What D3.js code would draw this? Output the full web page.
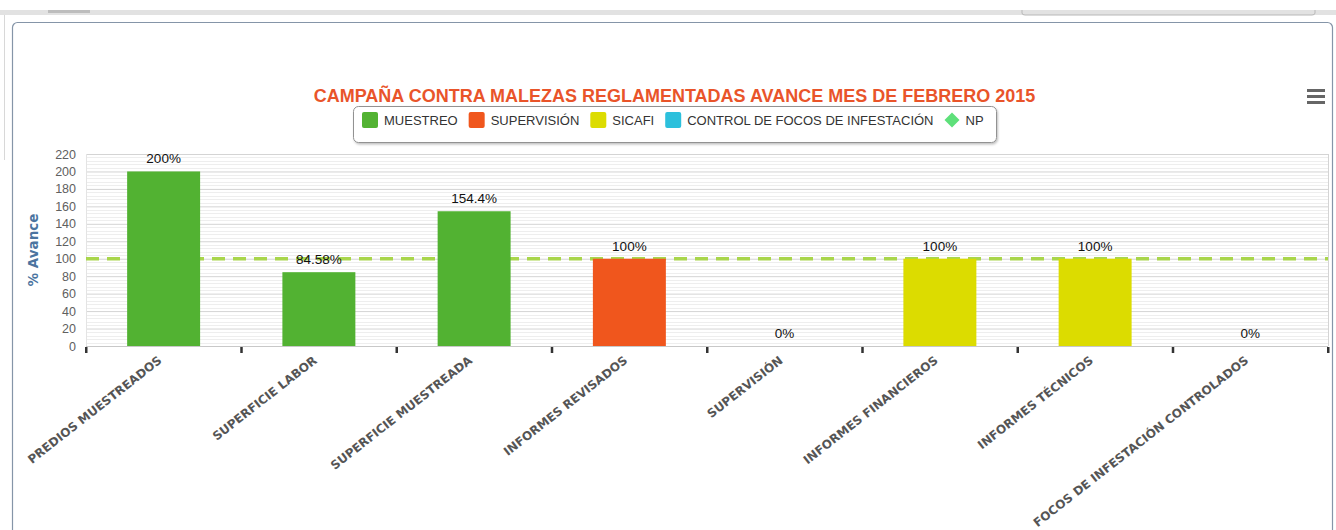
<!DOCTYPE html>
<html><head><meta charset="utf-8">
<script src="https://cdn.jsdelivr.net/npm/d3@7/dist/d3.min.js"></script>
<style>body{margin:0;background:#fff;}svg{display:block;}</style>
</head><body>
<svg id="c" width="1336" height="530"></svg>
<script>
const categories = ["PREDIOS MUESTREADOS","SUPERFICIE LABOR","SUPERFICIE MUESTREADA","INFORMES REVISADOS","SUPERVISIÓN","INFORMES FINANCIEROS","INFORMES TÉCNICOS","FOCOS DE INFESTACIÓN CONTROLADOS"];
const values = [200, 84.58, 154.4, 100, 0, 100, 100, 0];
const valueLabels = ["200%","84.58%","154.4%","100%","0%","100%","100%","0%"];
const pointSeries = ["MUESTREO","MUESTREO","MUESTREO","SUPERVISIÓN","SUPERVISIÓN","SICAFI","SICAFI","CONTROL DE FOCOS DE INFESTACIÓN"];
const seriesNames = ["MUESTREO","SUPERVISIÓN","SICAFI","CONTROL DE FOCOS DE INFESTACIÓN","NP"];
const seriesColors = ["#52b232","#f0561d","#dcdc00","#2cc0dc","#5ee07a"];
const targetValue = 100;
const yTicks = [0,20,40,60,80,100,120,140,160,180,200,220];
const title = "CAMPAÑA CONTRA MALEZAS REGLAMENTADAS AVANCE MES DE FEBRERO 2015";
const yTitle = "% Avance";

const svg = d3.select("#c");
const W = 1336, H = 530;
const M = {left:86, right:1328, top:154, bottom:346};

// page chrome
svg.append("rect").attr("x",0).attr("y",10).attr("width",W).attr("height",5).attr("fill","#e2e2e2");
svg.append("rect").attr("x",48).attr("y",10).attr("width",42).attr("height",3).attr("fill","#bdbdbd");
svg.append("path").attr("d","M1022,10 V13 Q1022,15 1025,15 H1312 Q1315,15 1315,13 V10").attr("fill","none").attr("stroke","#b8b8b8");
svg.append("line").attr("x1",4.5).attr("x2",4.5).attr("y1",15).attr("y2",160).attr("stroke","#d8d8d8");
svg.append("rect").attr("x",12.5).attr("y",22.5).attr("width",1320).attr("height",520).attr("rx",5)
  .attr("fill","#fff").attr("stroke","#8595a8").attr("stroke-width",1.2);

const color = d3.scaleOrdinal().domain(seriesNames).range(seriesColors);
const x = d3.scaleBand().domain(categories).range([M.left, M.right]);
const y = d3.scaleLinear().domain([0,220]).range([M.bottom, M.top]);

// minor grid
const minor = d3.range(0, 221, 4).filter(v => v % 20 !== 0);
svg.append("g").selectAll("line").data(minor).join("line")
  .attr("x1",M.left).attr("x2",M.right).attr("y1",d=>Math.round(y(d))+0.5).attr("y2",d=>Math.round(y(d))+0.5)
  .attr("stroke","#eeeeee");
// major grid via axis
const gy = svg.append("g").attr("transform",`translate(${M.left},0)`)
  .call(d3.axisLeft(y).tickValues(yTicks).tickSize(-(M.right-M.left)).tickPadding(10));
gy.select(".domain").remove();
gy.selectAll(".tick line").attr("stroke","#d4d4d4");
gy.selectAll(".tick text").attr("fill","#606060").attr("font-family","Liberation Sans, Arial, sans-serif").attr("font-size","12.5px");
// plot borders
svg.append("line").attr("x1",M.right+0.5).attr("x2",M.right+0.5).attr("y1",M.top).attr("y2",M.bottom).attr("stroke","#d4d4d4");
svg.append("line").attr("x1",M.left+0.5).attr("x2",M.left+0.5).attr("y1",M.top).attr("y2",M.bottom).attr("stroke","#e4e4e4");

// target dashed line (NP)
svg.append("line").attr("x1",M.left).attr("x2",M.right).attr("y1",y(targetValue)).attr("y2",y(targetValue))
  .attr("stroke","#a9d64c").attr("stroke-width",3.5).attr("stroke-dasharray","13,8");

// bars
const bw = x.bandwidth()*0.47;
svg.append("g").selectAll("rect").data(values).join("rect")
  .attr("x",(d,i)=>x(categories[i]) + (x.bandwidth()-bw)/2)
  .attr("width",bw)
  .attr("y",d=>y(d)).attr("height",d=>y(0)-y(d))
  .attr("fill",(d,i)=>color(pointSeries[i]));

// data labels
svg.append("g").selectAll("text").data(values).join("text")
  .attr("x",(d,i)=>x(categories[i]) + x.bandwidth()/2)
  .attr("y",d=>y(d)-8)
  .attr("text-anchor","middle").attr("font-family","Liberation Sans, Arial, sans-serif").attr("font-size","13.5px")
  .attr("fill","#111").text((d,i)=>valueLabels[i]);

// x axis
svg.append("line").attr("x1",M.left).attr("x2",M.right).attr("y1",M.bottom+0.5).attr("y2",M.bottom+0.5).attr("stroke","#c8c8c8");
const bounds = categories.map(c=>x(c)).concat([M.right]);
svg.append("g").selectAll("rect").data(bounds).join("rect")
  .attr("x",d=>d-1).attr("y",M.bottom+1).attr("width",2.5).attr("height",6).attr("fill","#333");
svg.append("g").selectAll("text").data(categories).join("text")
  .attr("transform",d=>`translate(${x(d)+x.bandwidth()/2-1},${M.bottom+16}) rotate(-38)`)
  .attr("text-anchor","end").attr("font-family","DejaVu Sans, sans-serif").attr("font-weight","bold")
  .attr("font-size","12px").attr("fill","#555").text(d=>d);

// y title
svg.append("text").attr("transform","translate(38,250) rotate(-90)").attr("text-anchor","middle")
  .attr("font-family","DejaVu Sans, sans-serif").attr("font-weight","bold").attr("font-size","13.5px")
  .attr("fill","#4b74a0").text(yTitle);

// title
svg.append("text").attr("x",674.5).attr("y",101.5).attr("text-anchor","middle")
  .attr("font-family","Liberation Sans, Arial, sans-serif").attr("font-weight","bold").attr("font-size","18px")
  .attr("fill","#e9542a").text(title);

// legend
const defs = svg.append("defs");
const f = defs.append("filter").attr("id","sh").attr("x","-5%").attr("y","-20%").attr("width","110%").attr("height","150%");
f.append("feDropShadow").attr("dx",1).attr("dy",1.5).attr("stdDeviation",1.2).attr("flood-color","#000").attr("flood-opacity",0.25);
svg.append("rect").attr("x",353.5).attr("y",106.5).attr("width",643).attr("height",36).attr("rx",5)
  .attr("fill","#fff").attr("stroke","#929292").attr("filter","url(#sh)");
const lg = svg.append("g").attr("font-family","Liberation Sans, Arial, sans-serif").attr("font-size","13px").attr("fill","#333");
let lx = 362;
seriesNames.forEach((s,i)=>{
  const g = lg.append("g").attr("transform",`translate(${lx},120)`);
  if (s === "NP") {
    g.append("path").attr("d","M7.5,-7.5 L15,0 L7.5,7.5 L0,0 Z").attr("fill",color(s));
  } else {
    g.append("rect").attr("x",0).attr("y",-8).attr("width",16).attr("height",16).attr("rx",2).attr("fill",color(s));
  }
  const t = g.append("text").attr("x",s==="NP"?21:22).attr("y",5).text(s);
  lx += (s==="NP"?21:22) + t.node().getComputedTextLength() + 11;
});

// menu icon
svg.append("g").selectAll("rect").data([0,1,2]).join("rect")
  .attr("x",1307).attr("y",d=>89+d*6).attr("width",18).attr("height",3).attr("fill","#666");
</script>
</body></html>
